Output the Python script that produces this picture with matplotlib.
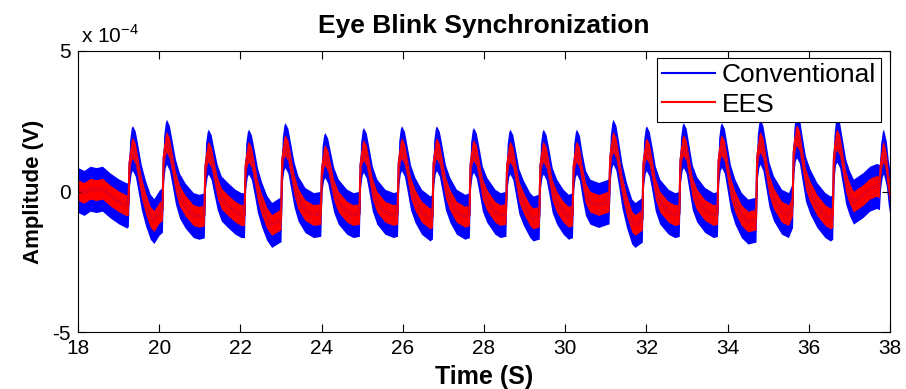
import numpy as np
import matplotlib
matplotlib.use('Agg')
import matplotlib.pyplot as plt

plt.rcParams['font.family'] = ['Liberation Sans', 'DejaVu Sans']

# blink waveform key points (time in s, amplitude in 1e-4 V)
blink_t = [
    18.00, 18.15, 18.30, 18.45, 18.60, 18.80, 19.00, 19.20,
    19.24, 19.27, 19.31, 19.34, 19.41, 19.48, 19.56, 19.66, 19.78, 19.87, 20.00,
    20.08, 20.11, 20.15, 20.18, 20.25, 20.32, 20.40, 20.50, 20.64, 20.84, 20.98,
    21.11, 21.14, 21.18, 21.21, 21.28, 21.35, 21.43, 21.53, 21.70, 21.87, 22.02,
    22.10, 22.13, 22.17, 22.20, 22.27, 22.34, 22.42, 22.52, 22.65, 22.77, 22.98,
    23.00, 23.03, 23.07, 23.10, 23.17, 23.24, 23.32, 23.42, 23.59, 23.80, 23.96,
    23.98, 24.01, 24.05, 24.08, 24.15, 24.22, 24.30, 24.41, 24.62, 24.78, 24.91,
    24.93, 24.96, 25.00, 25.03, 25.10, 25.17, 25.25, 25.36, 25.56, 25.77, 25.85,
    25.87, 25.90, 25.94, 25.97, 26.04, 26.11, 26.19, 26.30, 26.46, 26.67, 26.72,
    26.73, 26.76, 26.80, 26.83, 26.90, 26.97, 27.05, 27.16, 27.32, 27.53, 27.62,
    27.64, 27.67, 27.71, 27.74, 27.81, 27.88, 27.96, 28.07, 28.27, 28.40, 28.52,
    28.54, 28.57, 28.61, 28.64, 28.71, 28.78, 28.86, 28.97, 29.13, 29.21, 29.34,
    29.36, 29.39, 29.43, 29.46, 29.53, 29.60, 29.68, 29.79, 29.95, 30.08, 30.16,
    30.18, 30.21, 30.25, 30.28, 30.35, 30.42, 30.50, 30.61, 30.82, 31.06, 31.08,
    31.11, 31.15, 31.18, 31.25, 31.32, 31.40, 31.51, 31.64, 31.72, 31.90,
    31.93, 31.97, 32.00, 32.07, 32.14, 32.22, 32.33, 32.54, 32.70, 32.81,
    32.84, 32.88, 32.91, 32.98, 33.05, 33.13, 33.24, 33.44, 33.65, 33.75,
    33.78, 33.82, 33.85, 33.92, 33.99, 34.07, 34.18, 34.34, 34.50, 34.70,
    34.73, 34.77, 34.80, 34.87, 34.94, 35.02, 35.13, 35.33, 35.50, 35.60,
    35.63, 35.67, 35.70, 35.77, 35.84, 35.92, 36.03, 36.20, 36.40, 36.53, 36.59,
    36.62, 36.66, 36.69, 36.76, 36.83, 36.91, 37.00, 37.10, 37.34, 37.50, 37.67, 37.74,
    37.77, 37.81, 37.84, 37.91, 37.96, 38.00,
]
blink_v = [
    0.05, -0.05, 0.10, 0.05, 0.10, -0.15, -0.35, -0.50,
    -0.45, 1.00, 1.45, 1.55, 1.35, 0.80, 0.15, -0.40, -0.90, -1.05, -0.75,
    -0.65, 1.20, 1.65, 1.77, 1.55, 1.00, 0.35, -0.15, -0.50, -0.84, -0.90,
    -0.85, 0.90, 1.32, 1.42, 1.22, 0.70, 0.15, -0.25, -0.50, -0.72, -0.84,
    -0.84, 0.90, 1.32, 1.42, 1.22, 0.70, 0.05, -0.45, -0.94, -1.19, -1.00,
    -1.00, 1.10, 1.55, 1.65, 1.45, 0.90, 0.25, -0.25, -0.66, -0.84, -0.80,
    -0.80, 0.80, 1.20, 1.30, 1.10, 0.60, 0.05, -0.36, -0.72, -0.84, -0.80,
    -0.80, 0.95, 1.38, 1.48, 1.28, 0.75, 0.10, -0.36, -0.72, -0.84, -0.80,
    -0.80, 1.00, 1.44, 1.54, 1.34, 0.80, 0.15, -0.30, -0.72, -0.96, -0.90,
    -0.90, 1.00, 1.44, 1.54, 1.34, 0.80, 0.15, -0.30, -0.72, -0.90, -0.85,
    -0.85, 0.95, 1.38, 1.48, 1.28, 0.75, 0.10, -0.30, -0.72, -0.84, -0.80,
    -0.80, 0.90, 1.32, 1.42, 1.22, 0.65, 0.00, -0.40, -0.84, -0.96, -0.90,
    -0.90, 0.90, 1.32, 1.42, 1.22, 0.70, 0.05, -0.36, -0.72, -0.90, -0.85,
    -0.85, 0.90, 1.32, 1.42, 1.20, 0.55, -0.05, -0.36, -0.48, -0.36, -0.36,
    1.20, 1.65, 1.77, 1.55, 0.95, 0.20, -0.48, -1.07, -1.19, -1.00,
    1.00, 1.44, 1.54, 1.34, 0.80, 0.10, -0.36, -0.72, -0.84, -0.80,
    1.10, 1.55, 1.65, 1.45, 0.85, 0.15, -0.28, -0.66, -0.84, -0.80,
    1.10, 1.55, 1.65, 1.45, 0.85, 0.15, -0.36, -0.84, -1.07, -1.00,
    1.20, 1.65, 1.77, 1.55, 0.95, 0.25, -0.24, -0.72, -0.84, -0.48,
    1.40, 1.90, 2.00, 1.80, 1.15, 0.45, 0.00, -0.48, -0.84, -0.96, -0.90,
    1.20, 1.75, 1.85, 1.65, 1.05, 0.35, -0.05, -0.36, -0.12, 0.10, 0.20, 0.15,
    0.90, 1.32, 1.42, 1.00, 0.30, -0.05,
]

# half-width of the noise band around the trace (1e-4 V)
conv_spread = 0.80
ees_spread = 0.37

labels = ['Conventional', 'EES']
x_ticks = list(range(18, 39, 2))
y_ticks = [-5, 0, 5]

t = np.array(blink_t)
v = np.array(blink_v) * 1e-4

fig, ax = plt.subplots(figsize=(9.06, 3.89), dpi=100)
fig.subplots_adjust(left=0.0861, right=0.9823, top=0.8689, bottom=0.1465)

ax.fill_between(t, v - conv_spread * 1e-4, v + conv_spread * 1e-4, color='#0000ff', lw=0)
ax.plot(t, v, color='#0000ff', lw=1.5, label=labels[0])
ax.fill_between(t, v - ees_spread * 1e-4, v + ees_spread * 1e-4, color='#ff0000', lw=0)
ax.plot(t, v, color='#ff0000', lw=1.5, label=labels[1])

ax.set_xlim(18, 38)
ax.set_ylim(-5e-4, 5e-4)
ax.set_xticks(x_ticks)
ax.set_yticks([y * 1e-4 for y in y_ticks])
ax.set_yticklabels([str(y) for y in y_ticks])
ax.tick_params(direction='in', top=True, right=True, length=6, width=0.8,
               labelsize=15, pad=5)
for s in ax.spines.values():
    s.set_linewidth(0.8)

ax.annotate(r'x 10$^{\mathregular{-4}}$', xy=(0, 1), xycoords='axes fraction',
            xytext=(2, 6), textcoords='offset points', fontsize=15,
            ha='left', va='baseline')

ax.set_title('Eye Blink Synchronization', fontsize=19, fontweight='bold', pad=13)
ax.set_xlabel('Time (S)', fontsize=18, fontweight='bold', labelpad=5)
ax.set_ylabel('Amplitude (V)', fontsize=16, fontweight='bold', labelpad=6)

leg = ax.legend(loc='upper right', bbox_to_anchor=(0.989, 0.975), fontsize=19,
                fancybox=False, edgecolor='black', framealpha=1, borderaxespad=0,
                handlelength=2.0, handletextpad=0.25, labelspacing=0.2, borderpad=0.2)
leg.get_frame().set_linewidth(0.8)

fig.savefig('out.png', dpi=100)
